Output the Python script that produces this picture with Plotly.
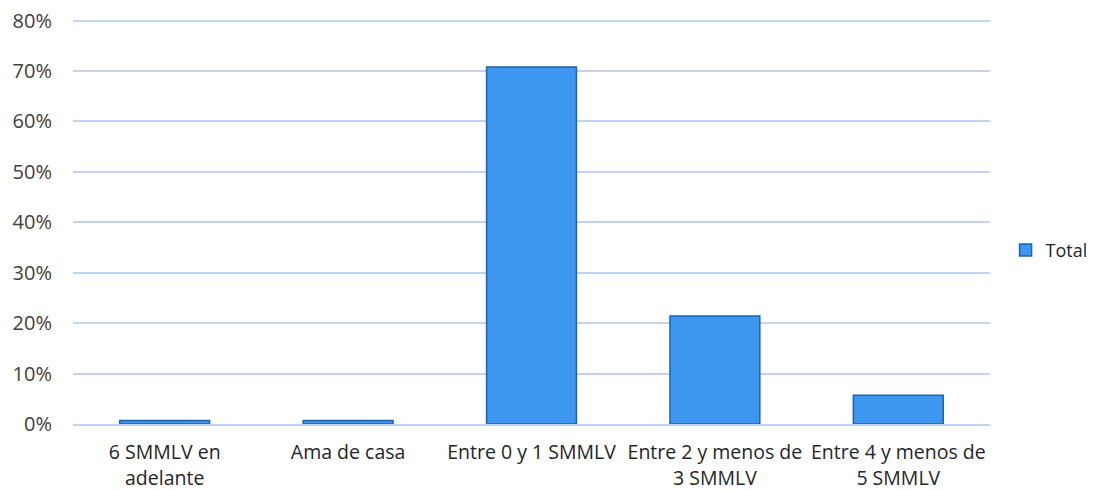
import plotly.graph_objects as go

# categories and share of respondents per income bracket
categorias = ['6 SMMLV en<br>adelante', 'Ama de casa', 'Entre 0 y 1 SMMLV',
              'Entre 2 y menos de<br>3 SMMLV', 'Entre 4 y menos de<br>5 SMMLV']
total = [0.007, 0.007, 0.708, 0.214, 0.057]
ticks_y = [0, 0.1, 0.2, 0.3, 0.4, 0.5, 0.6, 0.7, 0.8]

fuente = 'Open Sans'

fig = go.Figure()
fig.add_trace(go.Bar(
    x=categorias,
    y=total,
    name='Total',
    marker=dict(color='#3d97ef', line=dict(color='#1c62b5', width=1.5)),
    showlegend=True,
))

# the page body adds 8px, so margins are shifted to compensate
fig.update_layout(
    width=1099, height=490,
    paper_bgcolor='white', plot_bgcolor='white',
    margin=dict(l=65, r=117, t=10, b=74, autoexpand=False),
    bargap=0.51,
    font=dict(family=fuente, size=20, color='#404040'),
    legend=dict(x=1.017, y=0.428, xanchor='left', yanchor='middle',
                itemwidth=30, tracegroupgap=0,
                font=dict(size=18, color='#262626')),
    yaxis=dict(range=[0, 0.805], tickvals=ticks_y, tickformat='.0%',
               gridcolor='#c3d5ec', gridwidth=1.5, zeroline=False,
               showline=False, ticks='', ticklen=0, automargin=False,
               ticklabeloverflow='allow',
               tickfont=dict(size=20, color='#404040', family=fuente),
               ticklabelstandoff=20),
    xaxis=dict(showline=True, linecolor='#c3d5ec', linewidth=1.5,
               automargin=False, ticklabelstandoff=10,
               tickfont=dict(size=19.5, color='#262626', family=fuente),
               tickangle=0),
)

fig.write_html("out.html")
